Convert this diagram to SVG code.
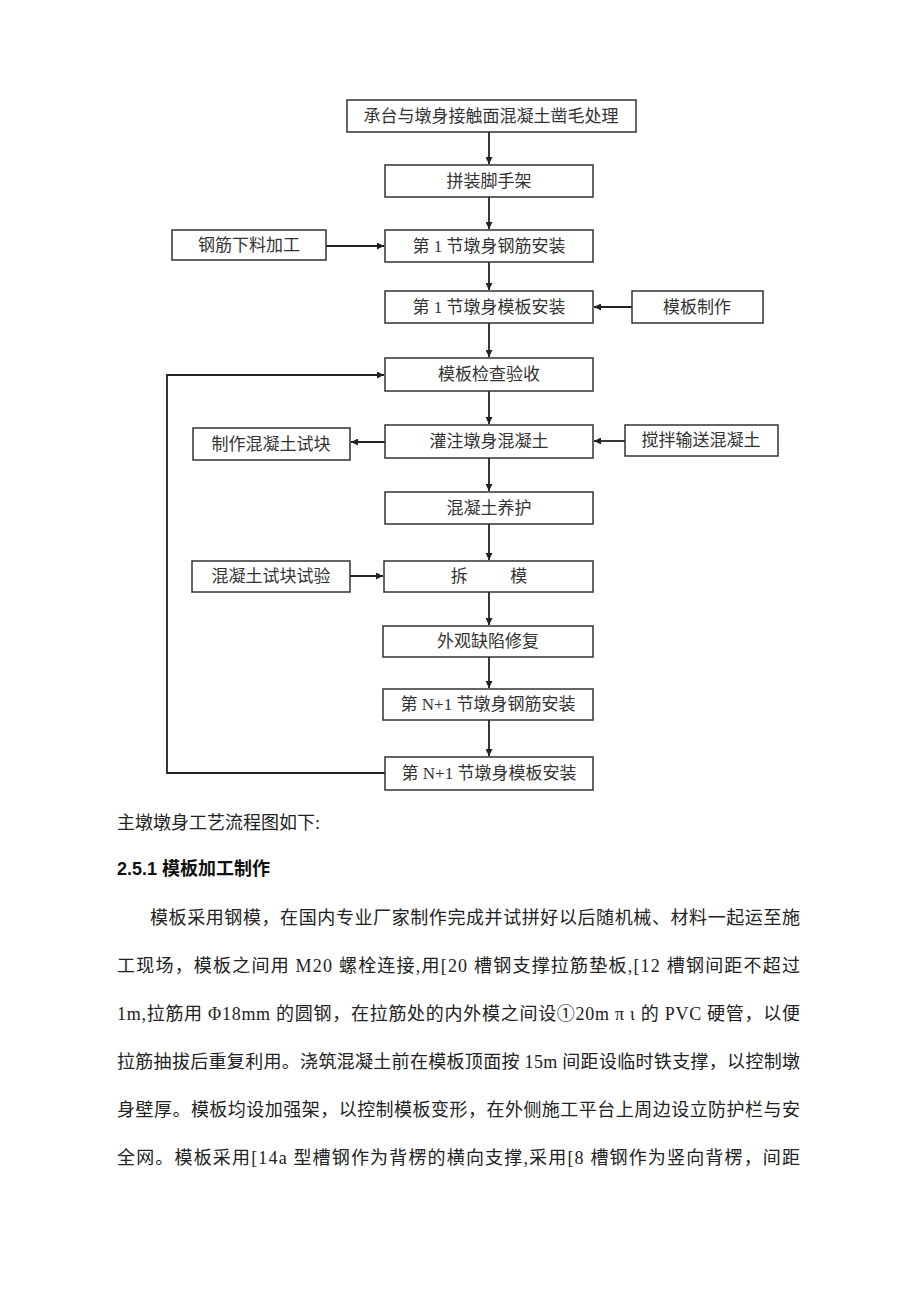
<svg xmlns="http://www.w3.org/2000/svg" width="920" height="1301" viewBox="0 0 920 1301">
<defs>
<style>
.box{fill:#fff;stroke:#333;stroke-width:1.5}
.bt{font-family:"Liberation Serif","Noto Sans CJK SC",serif;font-size:17px;fill:#333;text-anchor:middle}
.ln{fill:none;stroke:#222;stroke-width:1.8}
.body{font-family:"Liberation Serif","Noto Sans CJK SC",serif;font-size:18px;fill:#222}
.h{font-family:"Liberation Sans","Noto Sans CJK SC",sans-serif;font-size:18px;font-weight:bold;fill:#111}
</style>
<marker id="ah" viewBox="0 0 10 10" refX="10" refY="5" markerWidth="7" markerHeight="7" markerUnits="userSpaceOnUse" orient="auto">
<path d="M0,0 L10,5 L0,10 z" fill="#222"/>
</marker>
</defs>
<rect width="920" height="1301" fill="#fff"/>
<g id="connectors">
<line class="ln" x1="489" y1="132" x2="489" y2="164" marker-end="url(#ah)"/>
<line class="ln" x1="489" y1="197" x2="489" y2="229" marker-end="url(#ah)"/>
<line class="ln" x1="489" y1="262" x2="489" y2="290" marker-end="url(#ah)"/>
<line class="ln" x1="489" y1="323" x2="489" y2="357" marker-end="url(#ah)"/>
<line class="ln" x1="489" y1="391" x2="489" y2="424" marker-end="url(#ah)"/>
<line class="ln" x1="489" y1="458" x2="489" y2="491" marker-end="url(#ah)"/>
<line class="ln" x1="489" y1="524" x2="489" y2="560" marker-end="url(#ah)"/>
<line class="ln" x1="489" y1="592" x2="489" y2="625" marker-end="url(#ah)"/>
<line class="ln" x1="489" y1="657" x2="489" y2="688" marker-end="url(#ah)"/>
<line class="ln" x1="489" y1="720" x2="489" y2="756" marker-end="url(#ah)"/>
<line class="ln" x1="326" y1="246" x2="384" y2="246" marker-end="url(#ah)"/>
<line class="ln" x1="632" y1="307" x2="594" y2="307" marker-end="url(#ah)"/>
<line class="ln" x1="385" y1="442" x2="351" y2="442" marker-end="url(#ah)"/>
<line class="ln" x1="625" y1="441" x2="594" y2="441" marker-end="url(#ah)"/>
<line class="ln" x1="350" y1="576" x2="383" y2="576" marker-end="url(#ah)"/>
<polyline class="ln" points="385,773 167,773 167,375 384,375" marker-end="url(#ah)"/>
</g>
<g id="n1"><rect class="box" x="347" y="100" width="289" height="32"/><text class="bt" x="491" y="122">承台与墩身接触面混凝土凿毛处理</text></g>
<g id="n2"><rect class="box" x="385" y="165" width="208" height="32"/><text class="bt" x="489" y="187">拼装脚手架</text></g>
<g id="n3"><rect class="box" x="385" y="230" width="208" height="32"/><text class="bt" x="489" y="252">第 1 节墩身钢筋安装</text></g>
<g id="n4"><rect class="box" x="385" y="291" width="208" height="32"/><text class="bt" x="489" y="313">第 1 节墩身模板安装</text></g>
<g id="n5"><rect class="box" x="385" y="358" width="208" height="33"/><text class="bt" x="489" y="380">模板检查验收</text></g>
<g id="n6"><rect class="box" x="385" y="425" width="208" height="33"/><text class="bt" x="489" y="447">灌注墩身混凝土</text></g>
<g id="n7"><rect class="box" x="385" y="492" width="208" height="32"/><text class="bt" x="489" y="514">混凝土养护</text></g>
<g id="n8"><rect class="box" x="384" y="561" width="209" height="31"/><text class="bt" x="489" y="582" xml:space="preserve">拆          模</text></g>
<g id="n9"><rect class="box" x="383" y="626" width="210" height="31"/><text class="bt" x="488" y="647">外观缺陷修复</text></g>
<g id="n10"><rect class="box" x="383" y="689" width="210" height="31"/><text class="bt" x="488" y="710">第 N+1 节墩身钢筋安装</text></g>
<g id="n11"><rect class="box" x="385" y="757" width="208" height="33"/><text class="bt" x="489" y="779">第 N+1 节墩身模板安装</text></g>
<g id="l1"><rect class="box" x="172" y="230" width="154" height="30"/><text class="bt" x="249" y="251">钢筋下料加工</text></g>
<g id="r1"><rect class="box" x="632" y="291" width="131" height="32"/><text class="bt" x="697" y="313">模板制作</text></g>
<g id="l2"><rect class="box" x="193" y="428" width="157" height="32"/><text class="bt" x="271" y="450">制作混凝土试块</text></g>
<g id="r2"><rect class="box" x="625" y="425" width="153" height="31"/><text class="bt" x="701" y="446">搅拌输送混凝土</text></g>
<g id="l3"><rect class="box" x="192" y="561" width="158" height="31"/><text class="bt" x="271" y="582">混凝土试块试验</text></g>
<text class="body" x="117" y="829" font-size="17">主墩墩身工艺流程图如下:</text>
<text class="h" x="117" y="875">2.5.1 模板加工制作</text>
<text class="body" x="150" y="924" textLength="650" lengthAdjust="spacing">模板采用钢模，在国内专业厂家制作完成并试拼好以后随机械、材料一起运至施</text>
<text class="body" x="117" y="972" textLength="683" lengthAdjust="spacing">工现场，模板之间用 M20 螺栓连接,用[20 槽钢支撑拉筋垫板,[12 槽钢间距不超过</text>
<text class="body" x="117" y="1020" textLength="683" lengthAdjust="spacing">1m,拉筋用 Φ18mm 的圆钢，在拉筋处的内外模之间设①20m π ι 的 PVC 硬管，以便</text>
<text class="body" x="117" y="1068" textLength="683" lengthAdjust="spacing">拉筋抽拔后重复利用。浇筑混凝土前在模板顶面按 15m 间距设临时铁支撑，以控制墩</text>
<text class="body" x="117" y="1116" textLength="683" lengthAdjust="spacing">身壁厚。模板均设加强架，以控制模板变形，在外侧施工平台上周边设立防护栏与安</text>
<text class="body" x="117" y="1164" textLength="683" lengthAdjust="spacing">全网。模板采用[14a 型槽钢作为背楞的横向支撑,采用[8 槽钢作为竖向背楞，间距</text>
</svg>
